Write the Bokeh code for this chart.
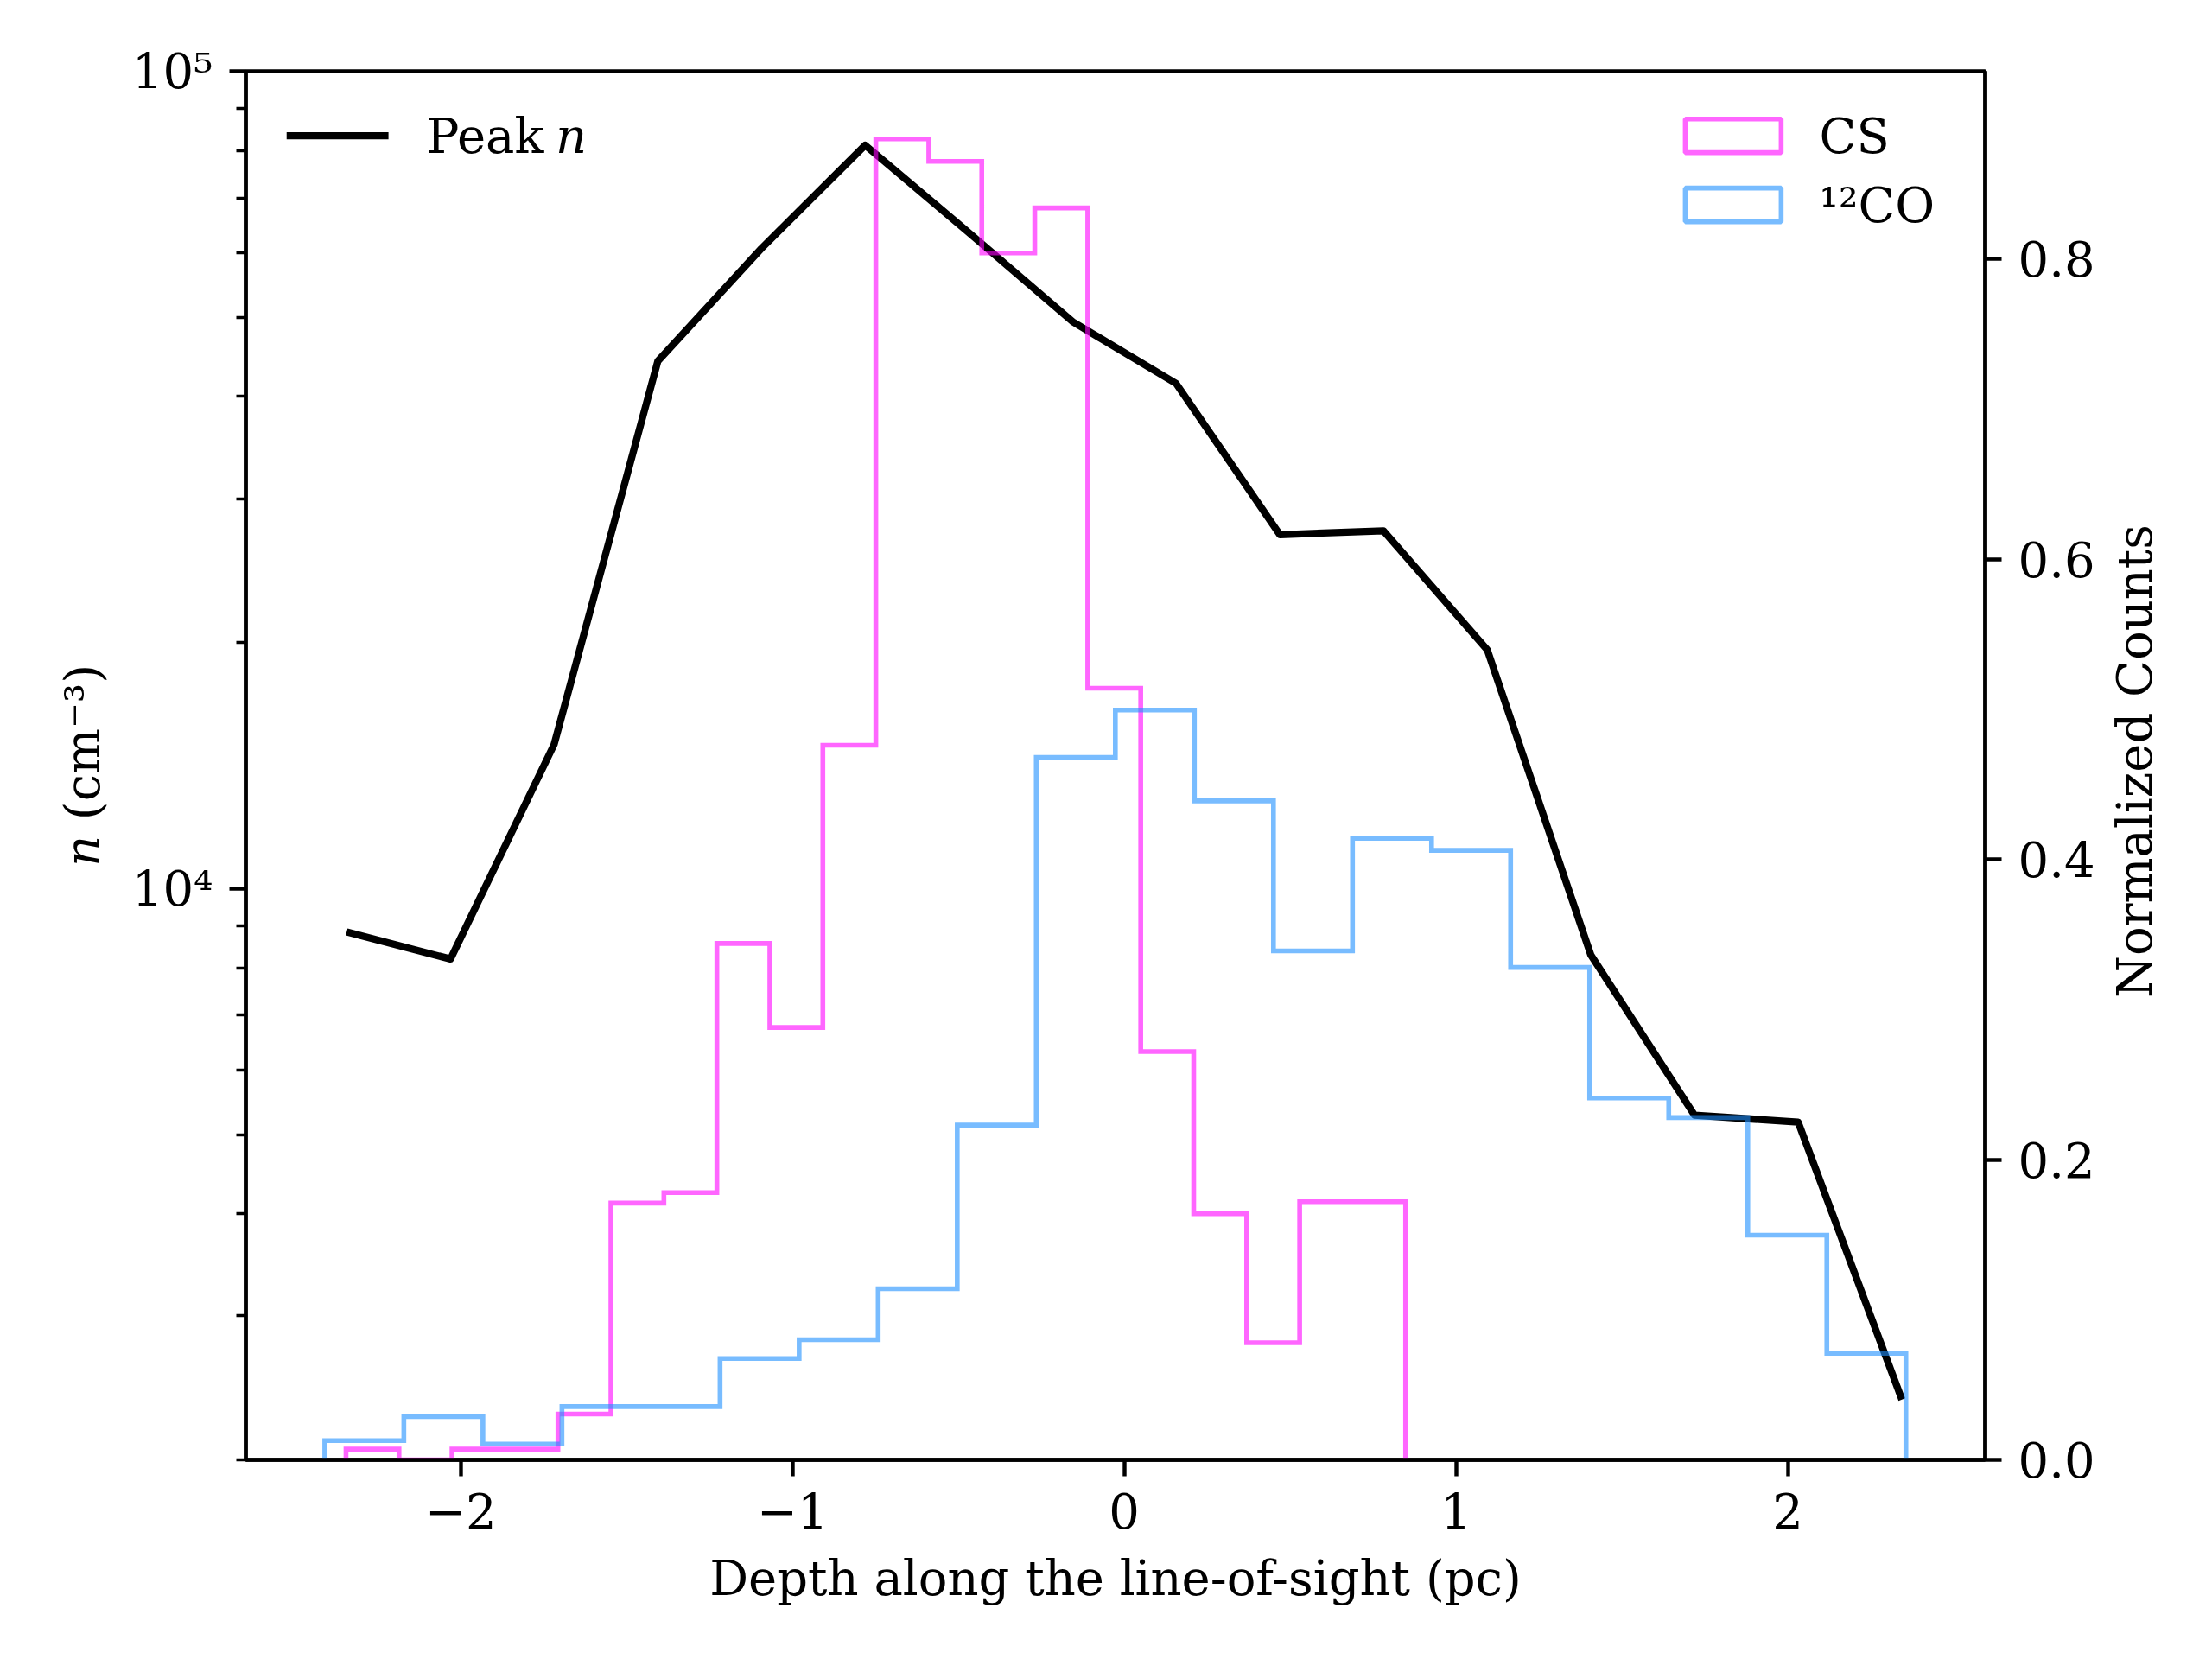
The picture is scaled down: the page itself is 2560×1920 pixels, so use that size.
import numpy as np
from bokeh.plotting import figure
from bokeh.models import (Range1d, LinearAxis, LinearScale, FixedTicker, Label,
                          CustomJSTickFormatter)
from bokeh.embed import file_html
from bokeh.resources import INLINE

# ---------------- data ----------------
depth_pc = [-2.344, -2.031, -1.719, -1.406, -1.094, -0.781, -0.469, -0.156,
            0.156, 0.469, 0.781, 1.094, 1.406, 1.719, 2.031, 2.344]
peak_n = [8850, 8200, 15000, 44200, 60700, 81200, 63500, 49400,
          41500, 27100, 27400, 19600, 8300, 5280, 5180, 2370]

cs_first_edge = -2.346
cs_bin_width = 0.1597
cs_counts = [0.0071, 0.0, 0.0071, 0.0071, 0.0305, 0.171, 0.178, 0.344, 0.288, 0.476,
             0.880, 0.865, 0.804, 0.834, 0.514, 0.272, 0.164, 0.078, 0.172, 0.172]

co_first_edge = -2.410
co_bin_width = 0.2383
co_counts = [0.0128, 0.0288, 0.0105, 0.0355, 0.0355, 0.0675, 0.080, 0.114, 0.223, 0.468,
             0.4995, 0.439, 0.339, 0.414, 0.406, 0.328, 0.241, 0.228, 0.1497, 0.071]

x_ticks = [-2, -1, 0, 1, 2]
left_major = [1e4, 1e5]
left_minor = [2000, 3000, 4000, 5000, 6000, 7000, 8000, 9000,
              20000, 30000, 40000, 50000, 60000, 70000, 80000, 90000]
right_ticks = [0.0, 0.2, 0.4, 0.6, 0.8]
right_label = "Normalized Counts"

FONT = "DejaVu Serif"
FS = "56px"
CS_COLOR = "#ff00ff"
CO_COLOR = "#1e90ff"

cs_edges = cs_first_edge + cs_bin_width * np.arange(len(cs_counts) + 1)
co_edges = co_first_edge + co_bin_width * np.arange(len(co_counts) + 1)


def step_path(edges, counts):
    xs = np.repeat(edges, 2)
    ys = np.concatenate([[0.0], np.repeat(np.asarray(counts, float), 2), [0.0]])
    return xs, ys


# ---------------- figure ----------------
RIGHT_TOP = 0.925
p = figure(frame_width=2013, frame_height=1607,
           x_range=Range1d(-2.648, 2.595), y_range=Range1d(2000, 1e5),
           y_axis_type="log", output_backend="svg", toolbar_location=None,
           min_border_left=284, min_border_right=247, min_border_top=82,
           min_border_bottom=213)
p.extra_y_ranges = {"right": Range1d(0, RIGHT_TOP)}
p.extra_y_scales = {"right": LinearScale()}
p.background_fill_color = "white"
p.border_fill_color = "white"
p.outline_line_color = "black"
p.outline_line_width = 4.4
p.xgrid.visible = False
p.ygrid.visible = False


def style_axis(ax):
    ax.axis_line_width = 4.4
    ax.axis_line_color = "black"
    ax.major_tick_line_width = 4.4
    ax.major_tick_line_color = "black"
    ax.major_tick_out = 19
    ax.major_tick_in = 0
    ax.minor_tick_line_width = 3.3
    ax.minor_tick_line_color = "black"
    ax.minor_tick_out = 11
    ax.minor_tick_in = 0
    ax.major_label_text_font = FONT
    ax.major_label_text_font_size = FS
    ax.major_label_text_color = "black"
    ax.major_label_standoff = 19
    ax.axis_label_text_font = FONT
    ax.axis_label_text_font_size = FS
    ax.axis_label_text_font_style = "normal"
    ax.axis_label_text_color = "black"


xax = p.xaxis[0]
style_axis(xax)
xax.ticker = FixedTicker(ticks=x_ticks, minor_ticks=[])
xax.formatter = CustomJSTickFormatter(
    code="return tick < 0 ? '\u2212' + Math.abs(tick) : String(tick);")
xax.axis_label = "Depth along the line-of-sight (pc)"
xax.axis_label_standoff = 22

yax = p.yaxis[0]
style_axis(yax)
yax.ticker = FixedTicker(ticks=left_major, minor_ticks=left_minor)
yax.formatter = CustomJSTickFormatter(
    code="return '10' + (Math.round(Math.log10(tick)) == 4 ? '\u2074' : '\u2075');")
yax.axis_label = "\U0001D45B (cm\u207b\u00b3)"
yax.axis_label_standoff = 22

rax = LinearAxis(y_range_name="right",
                 ticker=FixedTicker(ticks=right_ticks, minor_ticks=[]),
                 formatter=CustomJSTickFormatter(code="return tick.toFixed(1);"))
style_axis(rax)
p.add_layout(rax, "right")

# right-hand axis title, read bottom-to-top and centred on the frame
label_len_frac = 538.0 / 1607.0 * RIGHT_TOP   # text length as a fraction of the range
lab_ax = LinearAxis(y_range_name="right",
                    ticker=FixedTicker(ticks=[RIGHT_TOP / 2 - label_len_frac / 2],
                                       minor_ticks=[]),
                    formatter=CustomJSTickFormatter(
                        code="return %r;" % right_label))
style_axis(lab_ax)
lab_ax.axis_line_color = None
lab_ax.major_tick_line_color = None
lab_ax.major_tick_out = 0
lab_ax.major_label_standoff = 43
lab_ax.major_label_orientation = np.pi / 2
p.add_layout(lab_ax, "right")

# ---------------- data marks ----------------
p.line(depth_pc, peak_n, line_color="black", line_width=8.3, line_join="round")

cs_x, cs_y = step_path(cs_edges, cs_counts)
p.line(cs_x, cs_y, y_range_name="right", line_color=CS_COLOR, line_alpha=0.6,
       line_width=5.6, line_join="miter")
co_x, co_y = step_path(co_edges, co_counts)
p.line(co_x, co_y, y_range_name="right", line_color=CO_COLOR, line_alpha=0.6,
       line_width=5.6, line_join="miter")

# ---------------- legends (drawn by hand to allow italic n) ----------------
p.line([-2.525, -2.218], [0.882, 0.882], y_range_name="right",
       line_color="black", line_width=8.3)
p.add_layout(Label(x=-2.103, y=0.882, y_range_name="right", text="Peak",
                   text_font=FONT, text_font_size=FS, text_baseline="middle",
                   text_align="left", text_color="black"))
p.add_layout(Label(x=-1.714, y=0.882, y_range_name="right", text="n",
                   text_font=FONT, text_font_size=FS, text_font_style="italic",
                   text_baseline="middle", text_align="left", text_color="black"))

p.quad(left=[1.691], right=[1.980], bottom=[0.8708], top=[0.8932], y_range_name="right",
       fill_alpha=0, line_color=CS_COLOR, line_alpha=0.6, line_width=5.6)
p.quad(left=[1.691], right=[1.980], bottom=[0.8248], top=[0.8472], y_range_name="right",
       fill_alpha=0, line_color=CO_COLOR, line_alpha=0.6, line_width=5.6)
p.add_layout(Label(x=2.095, y=0.882, y_range_name="right", text="CS",
                   text_font=FONT, text_font_size=FS, text_baseline="middle",
                   text_align="left", text_color="black"))
p.add_layout(Label(x=2.095, y=0.836, y_range_name="right", text="\u00b9\u00b2CO",
                   text_font=FONT, text_font_size=FS, text_baseline="middle",
                   text_align="left", text_color="black"))

open("out.html", "w").write(file_html(p, INLINE))
